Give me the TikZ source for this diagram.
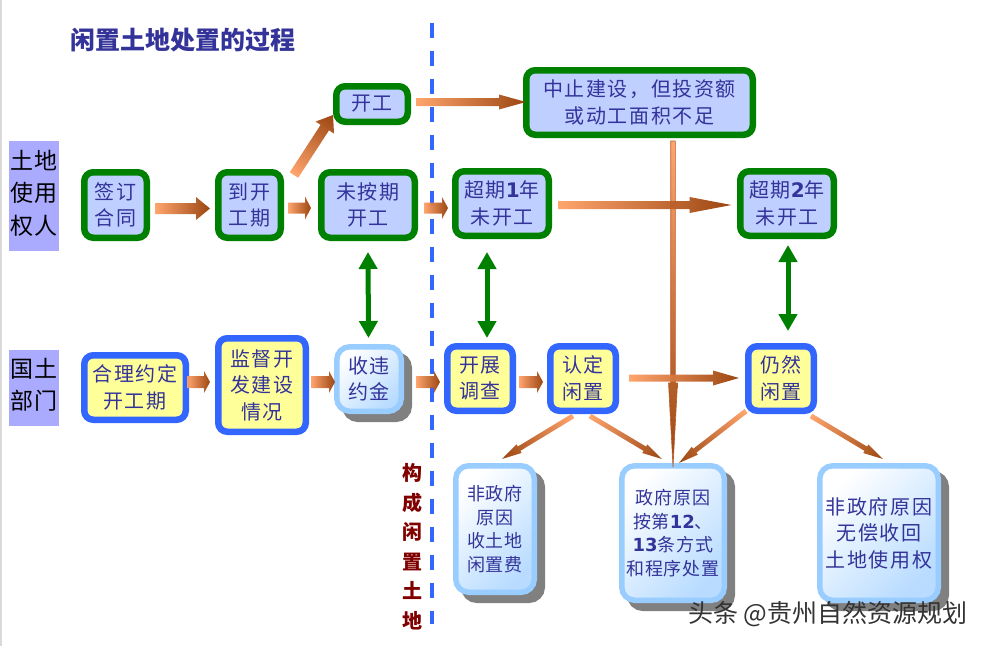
\documentclass[tikz,border=0pt]{standalone}
\usepackage{fontspec}
\setmainfont[LetterSpace=8]{Noto Sans CJK SC}
\newfontfamily\narrowcjk[LetterSpace=5]{Noto Sans CJK SC}
\newfontfamily\plaincjk{Noto Sans CJK SC}
\newfontfamily\digitfont{DejaVu Sans}
\usetikzlibrary{arrows.meta,shadows}

\definecolor{inkblue}{HTML}{333399}
\definecolor{boxgreen}{HTML}{008000}
\definecolor{boxblue}{HTML}{3366FF}
\definecolor{palefill}{HTML}{BFCFFF}
\definecolor{yellowfill}{HTML}{FFFF99}
\definecolor{skyedge}{HTML}{99CCFF}
\definecolor{shadowgray}{HTML}{808080}
\definecolor{sidefill}{HTML}{AAAAFF}
\definecolor{arrowlight}{HTML}{FFA066}
\definecolor{arrowmid}{HTML}{E8701F}
\definecolor{arrowdark}{HTML}{963C05}

\tikzset{
	basebox/.style={rounded corners=9pt, inner sep=0pt, align=center, text=inkblue,
		font=\fontsize{20}{26.5}\selectfont},
	greenbox/.style={basebox, draw=boxgreen, fill=palefill, line width=6.5pt},
	bluebox/.style={basebox, draw=boxblue, fill=yellowfill, line width=6.5pt},
	skybox/.style={basebox, draw=skyedge, line width=5.5pt, rounded corners=13pt,
		drop shadow={shadow xshift=8pt, shadow yshift=-8pt, fill=shadowgray, draw=shadowgray, opacity=1},
		top color=white, bottom color=skyedge!70, shading angle=45},
	smalltext/.style={font=\narrowcjk\fontsize{18}{23.4}\selectfont},
	sidelabel/.style={fill=sidefill, inner sep=0pt, align=center, minimum width=50pt, text=black,
		font=\fontsize{23}{32.5}\selectfont},
	bothways/.style={draw=boxgreen, line width=5pt,
		{Triangle[width=18pt,length=17pt]}-{Triangle[width=18pt,length=17pt]}}
}

% gradient block arrow: start, end, half shaft, half head, head length, extras
\newcommand{\flowarrow}[6]{
	\coordinate (arrowS) at #1;
	\coordinate (arrowE) at #2;
	\pgfpointdiff{\pgfpointanchor{arrowS}{center}}{\pgfpointanchor{arrowE}{center}}
	\pgfgetlastxy{\arrowdx}{\arrowdy}
	\pgfmathsetmacro{\arrowang}{atan2(\arrowdy,\arrowdx)}
	\pgfmathsetlengthmacro{\arrowlen}{veclen(\arrowdx,\arrowdy)}
	\begin{scope}[transform canvas={shift={(arrowS)},rotate=\arrowang}]
		\shade[left color=arrowlight, middle color=arrowmid, right color=arrowdark, opacity=.95, #6]
			(0pt,-#3pt) -- (\arrowlen-#5pt,-#3pt) -- (\arrowlen-#5pt,-#4pt)
			-- (\arrowlen,0pt) -- (\arrowlen-#5pt,#4pt) -- (\arrowlen-#5pt,#3pt)
			-- (0pt,#3pt) -- cycle;
	\end{scope}
}

\begin{document}
\begin{tikzpicture}[x=1pt,y=-1pt]
	\useasboundingbox (0,0) rectangle (988,646);
	\fill[gray!30] (0,0) rectangle (1.5,646);

	% Titolo e linea
	\node[text=inkblue, inner sep=0pt, font=\plaincjk\bfseries\fontsize{25}{30}\selectfont] (title) at (183,40) {闲置土地处置的过程};
	\coordinate (lineTop) at (432,23);
	\coordinate (lineEnd) at (432,624);
	\draw[boxblue, line width=4pt, dash pattern=on 15pt off 13pt] (lineTop) -- (lineEnd);

	% Etichette laterali
	\node[sidelabel, minimum height=110pt] (landuser) at (34,196) {土地\\使用\\权人\vspace{6pt}};
	\node[sidelabel, minimum height=76pt] (landdept) at (34,388) {国土\\部门\vspace{6pt}};

	% Riga superiore
	\node[greenbox, minimum width=62.5pt, minimum height=65.5pt] (qianding) at (115.5,205) {签订\\合同};
	\node[greenbox, minimum width=62.5pt, minimum height=65.5pt] (daokai) at (249.5,205) {到开\\工期};
	\node[greenbox, minimum width=93.5pt, minimum height=65.5pt] (weian) at (368,205) {未按期\\开工};
	\node[greenbox, minimum width=71.5pt, minimum height=35.5pt] (kaigong) at (372,104) {开工};
	\node[greenbox, minimum width=93.5pt, minimum height=64.5pt] (chaoone) at (502,203.5) {超期{\digitfont\bfseries 1}年\\未开工};
	\node[greenbox, minimum width=93.5pt, minimum height=64.5pt] (chaotwo) at (787,203.5) {超期{\digitfont\bfseries 2}年\\未开工};
	\node[greenbox, minimum width=226.5pt, minimum height=64.5pt] (zhongzhi) at (639.5,102.5) {中止建设，但投资额\\或动工面积不足};

	% Riga inferiore
	\node[bluebox, minimum width=101.5pt, minimum height=64.5pt] (heli) at (135,387.5) {合理约定\\开工期};
	\node[bluebox, minimum width=87.5pt, minimum height=93.5pt] (jiandu) at (262,385) {监督开\\发建设\\情况};
	\node[skybox, minimum width=64.5pt, minimum height=64.5pt] (shouwei) at (369,379) {收违\\约金};
	\node[bluebox, minimum width=65.5pt, minimum height=64.5pt] (kaizhan) at (480,378.5) {开展\\调查};
	\node[bluebox, minimum width=65.5pt, minimum height=64.5pt] (rending) at (583,378.5) {认定\\闲置};
	\node[bluebox, minimum width=65.5pt, minimum height=64.5pt] (rengran) at (781,378.5) {仍然\\闲置};

	% Esiti
	\node[skybox, smalltext, minimum width=78.5pt, minimum height=126.5pt] (feione) at (495,529) {非政府\\原因\\收土地\\闲置费};
	\node[skybox, smalltext, minimum width=102.5pt, minimum height=134.5pt] (zhengfu) at (673,533) {政府原因\\按第{\digitfont\bfseries 12}、\\{\digitfont\bfseries 13}条方式\\和程序处置};
	\node[skybox, minimum width=118.5pt, minimum height=134.5pt] (feitwo) at (879,533) {非政府原因\\无偿收回\\土地使用权};

	\node[text=black!50!red, inner sep=0pt, align=center, font=\plaincjk\bfseries\fontsize{20}{29.5}\selectfont] (goucheng) at (412,546.5) {构\\成\\闲\\置\\土\\地};

	% Frecce verdi
	\draw[bothways] ([yshift=-11pt]weian.south) -- ([yshift=6pt,xshift=-.5pt]shouwei.north);
	\draw[bothways] ([xshift=-15pt,yshift=-13pt]chaoone.south) -- ([xshift=7pt,yshift=5pt]kaizhan.north);
	\draw[bothways] ([xshift=1pt,yshift=-6pt]chaotwo.south) -- ([xshift=7pt,yshift=12pt]rengran.north);

	% Frecce arancioni
	\flowarrow{([xshift=5pt,yshift=-3.5pt]qianding.east)}{([xshift=-5pt,yshift=-3.5pt]daokai.west)}{5.5}{11.5}{14}{}
	\flowarrow{([xshift=4pt,yshift=-3pt]daokai.east)}{([xshift=-7pt,yshift=-3pt]weian.west)}{5.5}{11.5}{6}{}
	\flowarrow{([xshift=10pt,yshift=-6pt]daokai.north east)}{([yshift=10pt]kaigong.south west)}{5}{11}{15}{}
	\flowarrow{([xshift=5pt,yshift=2pt]kaigong.east)}{([xshift=3pt,yshift=.5pt]zhongzhi.west)}{4}{7.5}{27}{}
	\flowarrow{([xshift=6pt,yshift=-3pt]weian.east)}{([xshift=-4pt,yshift=-4.5pt]chaoone.west)}{5.5}{11}{6}{}
	\flowarrow{([xshift=33.5pt,yshift=-3pt]zhongzhi.south)}{([yshift=-4pt]zhengfu.north)}{2.3}{4.5}{84}{draw=arrowdark!70!arrowlight, line width=.6pt}
	\flowarrow{([xshift=6pt,yshift=-1.5pt]chaoone.east)}{([xshift=-5.5pt,yshift=-1.5pt]chaotwo.west)}{4}{8}{42}{}
	\flowarrow{([xshift=-2pt,yshift=5.5pt]heli.east)}{([xshift=-5pt,yshift=3pt]jiandu.west)}{6}{11}{6}{}
	\flowarrow{([xshift=2pt,yshift=3pt]jiandu.east)}{([xshift=1pt,yshift=-3pt]shouwei.west)}{6}{11}{6}{}
	\flowarrow{([xshift=12pt,yshift=-3pt]shouwei.east)}{([xshift=-4pt,yshift=-3.5pt]kaizhan.west)}{6}{11}{6}{}
	\flowarrow{([xshift=3pt,yshift=-3.5pt]kaizhan.east)}{([xshift=-4pt,yshift=-3.5pt]rending.west)}{6}{11}{6}{}
	\flowarrow{([xshift=10pt,yshift=.5pt]rending.east)}{([xshift=-6pt,yshift=.5pt]rengran.west)}{3.5}{7.5}{26}{}
	\flowarrow{([xshift=-10pt,yshift=-2pt]rending.south)}{([xshift=7pt,yshift=4pt]feione.north)}{2.5}{5}{20}{}
	\flowarrow{([xshift=7pt,yshift=-2pt]rending.south)}{([xshift=-11pt,yshift=4pt]zhengfu.north)}{2.5}{5}{20}{}
	\flowarrow{([xshift=1pt,yshift=3pt]rengran.south west)}{([xshift=6pt]zhengfu.north)}{2.5}{5}{20}{}
	\flowarrow{([xshift=-6pt,yshift=-2pt]rengran.south east)}{([xshift=4pt,yshift=4pt]feitwo.north)}{2.5}{5}{20}{}

	% Marchio
	\node[text=black!80, inner sep=0pt, font=\plaincjk\fontsize{25}{30}\selectfont] (watermark) at (828,614) {头条 @贵州自然资源规划};
\end{tikzpicture}
\end{document}
